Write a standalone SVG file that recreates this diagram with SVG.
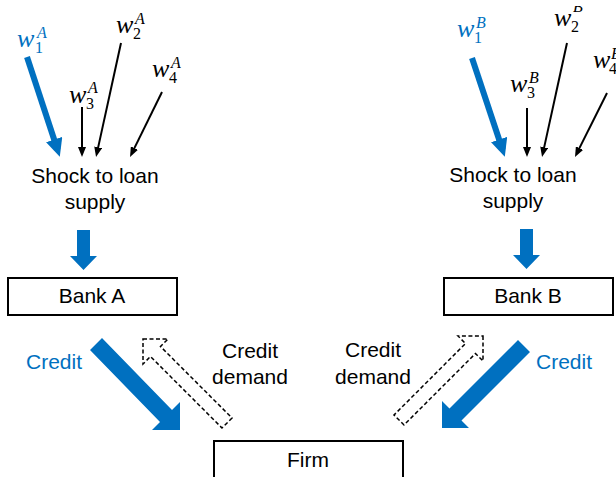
<svg xmlns="http://www.w3.org/2000/svg" width="616" height="477" viewBox="0 0 616 477">
<style>
.t{font-family:"Liberation Sans",Arial,sans-serif;font-size:21px;fill:#000;text-anchor:middle}
.m{font-family:"Liberation Serif","Times New Roman",serif;font-style:italic;font-size:26px;fill:#000}
.s{font-family:"Liberation Serif","Times New Roman",serif;font-size:16px;fill:#000}
.si{font-family:"Liberation Serif","Times New Roman",serif;font-style:italic;font-size:16px;fill:#000}
.blue{fill:#0070C0}
.box{fill:#fff;stroke:#000;stroke-width:2}
.ln{stroke:#000;stroke-width:2;fill:none;marker-end:url(#ah)}
.bl{stroke:#0070C0;stroke-width:6;fill:none;marker-end:url(#bh)}
.fat{fill:#0070C0;stroke:none}
.dash{fill:#fff;stroke:#000;stroke-width:1.5;stroke-dasharray:4 2.5}
</style>
<defs>
<marker id="ah" markerUnits="userSpaceOnUse" markerWidth="10" markerHeight="8" refX="6" refY="4" orient="auto"><path d="M0,0 L10,4 L0,8 z" fill="#000"/></marker>
<marker id="bh" markerUnits="userSpaceOnUse" markerWidth="18" markerHeight="17" refX="11" refY="8.5" orient="auto"><path d="M0,0 L18,8.5 L0,17 z" fill="#0070C0"/></marker>
<clipPath id="topclip"><rect x="0" y="6" width="616" height="471"/></clipPath>
</defs>

<g id="connectors">
<path class="bl" d="M27,57 L57.6,150"/>
<path class="ln" d="M121,43 L96.9,153.1"/>
<path class="ln" d="M82,107 L82,153"/>
<path class="ln" d="M162,92 L131.8,153.4"/>
<path class="bl" d="M472,58 L502.6,150"/>
<path class="ln" d="M567,43 L542.9,153.1"/>
<path class="ln" d="M527,108 L527,153"/>
<path class="ln" d="M607,93 L576.8,153.4"/>
<polygon class="fat" points="77,230 90,230 90,256 97,256 83.5,270 70,256 77,256"/>
<polygon class="fat" points="520,229 533,229 533,255 540,255 526.5,269 513,255 520,255"/>
<polygon class="fat" points="90,350 102,338 172,410 180,402 180,430 152,430 160,422"/>
<polygon class="dash" points="143,339 168,339 160.5,346.5 232,418 222,428 150.5,356.5 143,364"/>
<polygon class="fat" points="518,340 530,352 461.5,420.5 469,428 442,428 442,401 449.5,408.5"/>
<polygon class="dash" points="483,336 483,361 475.5,353.5 404,425 394,415 465.5,343.5 458,336"/>
</g>

<g id="w1A"><text class="m blue" x="17" y="47">w</text><text class="s blue" x="35" y="53">1</text><text class="si blue" x="37" y="38">A</text></g>
<g id="w2A"><text class="m" x="116" y="33">w</text><text class="s" x="133" y="39">2</text><text class="si" x="135" y="24">A</text></g>
<g id="w3A"><text class="m" x="69" y="103">w</text><text class="s" x="86" y="109">3</text><text class="si" x="88" y="93">A</text></g>
<g id="w4A"><text class="m" x="152" y="77">w</text><text class="s" x="169" y="83">4</text><text class="si" x="171" y="68">A</text></g>

<g id="w1B"><text class="m blue" x="457" y="37">w</text><text class="s blue" x="474" y="43">1</text><text class="si blue" x="476" y="28">B</text></g>
<g id="w2B"><text class="m" x="554" y="26">w</text><text class="s" x="571" y="32">2</text><text class="si" x="573" y="12" clip-path="url(#topclip)">B</text></g>
<g id="w3B"><text class="m" x="510" y="92">w</text><text class="s" x="527" y="98">3</text><text class="si" x="529" y="83">B</text></g>
<g id="w4B"><text class="m" x="593" y="68">w</text><text class="s" x="609" y="74">4</text><text class="si" x="611" y="59">B</text></g>

<g id="shockA"><text class="t" x="95" y="183">Shock to loan</text><text class="t" x="95" y="209">supply</text></g>
<g id="shockB"><text class="t" x="513" y="182">Shock to loan</text><text class="t" x="513" y="208">supply</text></g>

<g id="bankA"><rect class="box" x="8" y="278" width="169" height="37"/><text class="t" x="92" y="303">Bank A</text></g>
<g id="bankB"><rect class="box" x="444" y="278" width="169" height="37"/><text class="t" x="528" y="303">Bank B</text></g>
<g id="firm"><rect class="box" x="214" y="441" width="189" height="40"/><text class="t" x="308" y="467">Firm</text></g>

<g id="labels">
<text class="t blue" x="54" y="369">Credit</text>
<text class="t blue" x="564" y="369">Credit</text>
<text class="t" x="250" y="358">Credit</text>
<text class="t" x="250" y="384">demand</text>
<text class="t" x="373" y="357">Credit</text>
<text class="t" x="373" y="384">demand</text>
</g>
</svg>
